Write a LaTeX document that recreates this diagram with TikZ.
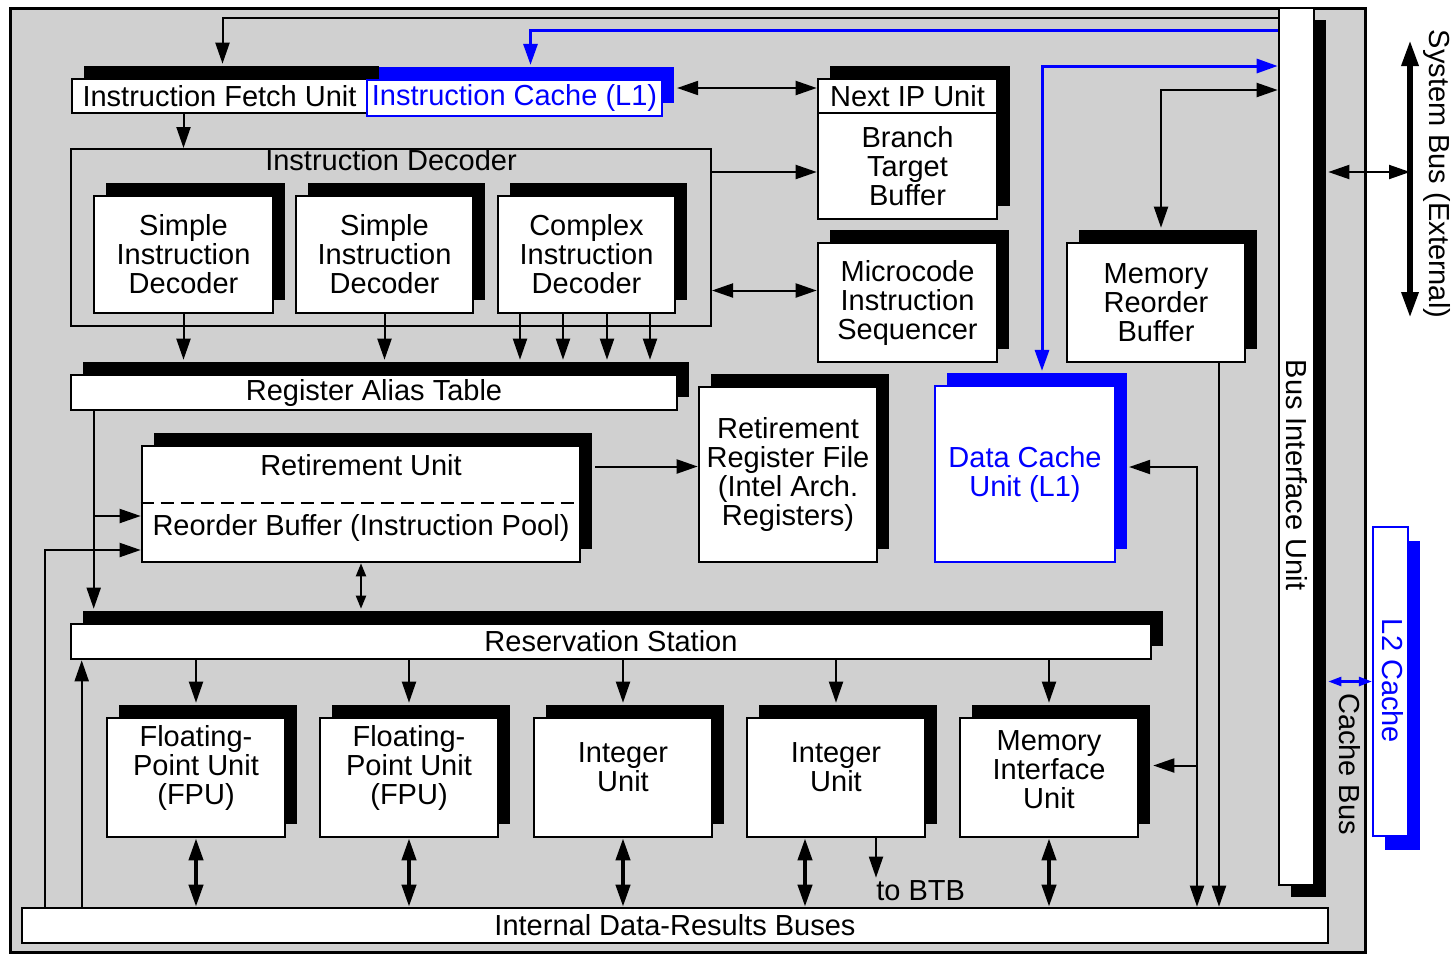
\documentclass[tikz,border=0pt]{standalone}
\usepackage{fontspec}
\setmainfont{Liberation Sans}
\usetikzlibrary{arrows.meta,shadows}
\definecolor{bggray}{RGB}{208,208,208}
\definecolor{pblue}{RGB}{0,0,255}
\begin{document}
\begin{tikzpicture}[x=0.5pt,y=-0.5pt,
  font=\fontsize{14.5}{14.5}\selectfont,
  unitbox/.style={draw=black, fill=white, line width=1.3pt, align=center, inner sep=0pt},
  bluebox/.style={draw=pblue, text=pblue, line width=1.1pt},
  blkshadow/.style={general shadow={fill=black, shadow xshift=6pt, shadow yshift=6.5pt}},
  blueshadow/.style={general shadow={fill=pblue, shadow xshift=6pt, shadow yshift=6.5pt}},
  exunit/.style={unitbox, blkshadow, minimum width=89pt, minimum height=59.5pt},
  arr/.style={-{Triangle[length=10.5pt,width=7pt]}, line width=1pt},
  darr/.style={{Triangle[length=10.5pt,width=7pt]}-{Triangle[length=10.5pt,width=7pt]}, line width=1pt},
  barr/.style={arr, draw=pblue, line width=1.5pt},
  dbarr/.style={darr, draw=pblue, line width=1.5pt},
  tdarr/.style={{Triangle[length=11pt,width=7pt]}-{Triangle[length=11pt,width=7pt]}, line width=2pt},
  sdarr/.style={{Triangle[length=6.5pt,width=5pt]}-{Triangle[length=6.5pt,width=5pt]}, line width=1pt},
]
\useasboundingbox (0,0) rectangle (1456,954);

% processor frame
\draw[line width=1.5pt, fill=bggray] (10,8) rectangle (1365,952);

% fetch stage
\node[unitbox, blkshadow, minimum width=147.5pt, minimum height=17pt] (ifu) at (219.5,96) {Instruction Fetch Unit};
\node[unitbox, bluebox, blueshadow, minimum width=147.5pt, minimum height=18pt] (ic) at (514.5,98) {Instruction Cache (L1)};

% next IP unit with branch target buffer
\fill[black] (830,66) rectangle (1010,206);
\node[unitbox, minimum width=89.5pt, minimum height=17pt] (nip) at (907.5,96) {Next IP Unit};
\node[unitbox, minimum width=89.5pt, minimum height=53pt] (btb) at (907.5,166) {Branch\\Target\\Buffer};

% decoder group
\node[draw, line width=1pt, minimum width=320pt, minimum height=88.5pt, inner sep=0pt] (dec) at (391,237.5) {};
\node (declabel) at (391,160) {Instruction Decoder};
\node[unitbox, blkshadow, minimum width=89.5pt, minimum height=58.5pt] (sid1) at (183.5,254.5) {Simple\\Instruction\\Decoder};
\node[unitbox, blkshadow, minimum width=88.5pt, minimum height=58.5pt] (sid2) at (384.5,254.5) {Simple\\Instruction\\Decoder};
\node[unitbox, blkshadow, minimum width=88.5pt, minimum height=58.5pt] (cid) at (586.5,254.5) {Complex\\Instruction\\Decoder};

\node[unitbox, blkshadow, minimum width=89.5pt, minimum height=59.5pt] (mis) at (907.5,302.5) {Microcode\\Instruction\\Sequencer};
\node[unitbox, blkshadow, minimum width=89pt, minimum height=59.5pt] (mrb) at (1156,302.5) {Memory\\Reorder\\Buffer};

\node[unitbox, blkshadow, minimum width=303pt, minimum height=17.5pt] (rat) at (374,392.5) {Register Alias Table};
\node[unitbox, blkshadow, minimum width=89pt, minimum height=87.5pt] (rrf) at (788,474.5) {Retirement\\Register File\\(Intel Arch.\\Registers)};
\node[unitbox, bluebox, blueshadow, minimum width=90pt, minimum height=88pt] (dcu) at (1025,474) {Data Cache\\Unit (L1)};

% retirement unit / reorder buffer
\node[unitbox, blkshadow, minimum width=219pt, minimum height=58pt] (rob) at (361,504) {};
\draw[line width=0.8pt, dash pattern=on 6.5pt off 3.5pt] (rob.west |- 0,503) -- (rob.east |- 0,503);
\node (rutext) at (361,465) {Retirement Unit};
\node (robtext) at (361,528) {Reorder Buffer (Instruction Pool)};

\node[unitbox, blkshadow, minimum width=540pt, minimum height=17.5pt] (rs) at (611,641.5) {Reservation Station};

% execution units
\node[exunit, label={[align=center,yshift=5pt]center:{Floating-\\Point Unit\\(FPU)}}] (fpu1) at (196,777.5) {};
\node[exunit, label={[align=center,yshift=5pt]center:{Floating-\\Point Unit\\(FPU)}}] (fpu2) at (409,777.5) {};
\node[exunit, label={[align=center,yshift=5pt]center:{Integer\\Unit}}] (int1) at (623,777.5) {};
\node[exunit, label={[align=center,yshift=5pt]center:{Integer\\Unit}}] (int2) at (836,777.5) {};
\node[exunit, label={[align=center,yshift=4pt]center:{Memory\\Interface\\Unit}}] (miu) at (1049,777.5) {};

\node[unitbox, minimum width=653pt, minimum height=17.5pt] (bus) at (675,925.5) {Internal Data-Results Buses};

% bus interface unit and L2 cache
\node[unitbox, general shadow={fill=black, shadow xshift=6pt, shadow yshift=-6pt}, minimum width=17.5pt, minimum height=438.5pt] (biu) at (1296.5,446.5) {};
\node[rotate=-90] (biutext) at (1297,475) {Bus Interface Unit};
\node[unitbox, bluebox, general shadow={fill=pblue, shadow xshift=6pt, shadow yshift=-7pt}, minimum width=17.5pt, minimum height=154.5pt] (l2) at (1390.5,681.5) {};
\node[rotate=-90, text=pblue] (l2text) at (1393,681) {L2 Cache};
\node[rotate=-90] (cachebus) at (1350,764) {Cache Bus};
\node[rotate=-90] (sysbus) at (1437,174) {System Bus (External)};
\node[anchor=base west, inner sep=1pt] (tobtb) at (874,900) {to BTB};

% helper points
\coordinate (yTop) at (0,18);
\coordinate (yBlue) at (0,30);
\coordinate (y66) at (0,66);
\coordinate (y88) at (0,88);
\coordinate (y90) at (0,90);
\coordinate (y172) at (0,172);
\coordinate (col1) at (1197,0);
\coordinate (col2) at (1219,0);
\coordinate (sysTop) at (1410,40);
\coordinate (sysBot) at (1410,318);
\coordinate (icR) at ([xshift=7pt]ic.east);
\coordinate (btbIn) at ([yshift=-3pt]btb.west);
\coordinate (misIn) at ([yshift=6pt]mis.west);
\coordinate (ratTop) at ([yshift=7pt]rat.north);
\coordinate (mrbTop) at ([xshift=2.5pt,yshift=7pt]mrb.north);
\coordinate (dcuTop) at ([xshift=8.5pt,yshift=7pt]dcu.north);
\coordinate (ruR) at ([xshift=7pt]rob.east);
\coordinate (rrfIn) at ([yshift=4pt]rrf.west);
\coordinate (dcuR) at ([xshift=6.5pt,yshift=3.5pt]dcu.east);
\coordinate (miuR) at ([xshift=7pt,yshift=6pt]miu.east);
\coordinate (ratL) at ([xshift=12pt]rat.south west);
\coordinate (rsTop) at ([yshift=7pt]rs.north);
\coordinate (robIn1) at ([yshift=-6pt]rob.west);
\coordinate (robIn2) at ([yshift=-23pt]rob.west);
\coordinate (busL1) at ([xshift=12pt]bus.north west);
\coordinate (busL2) at ([xshift=30.5pt]bus.north west);
\coordinate (i2a) at ([xshift=-15.5pt]int2.south);
\coordinate (i2b) at ([xshift=20pt]int2.south);
\coordinate (biuR) at ([xshift=6.5pt]biu.east);

% front end connections
\draw[arr] (biu.west |- yTop) -| ([xshift=1.5pt,yshift=7pt]ifu.north);
\draw[barr] (biu.west |- yBlue) -| ([xshift=8pt,yshift=7pt]ic.north);
\draw[darr] (icR |- y88) -- (nip.west |- y88);
\draw[arr] (ifu.south -| sid1) -- (dec.north -| sid1);
\draw[arr] (dec.east |- btbIn) -- (btbIn);
\draw[darr] (dec.east |- misIn) -- (misIn);
\draw[arr] (sid1.south) -- (sid1.south |- ratTop);
\draw[arr] (sid2.south) -- (sid2.south |- ratTop);
\foreach \dx [count=\i] in {-33.25,-11.75,10.25,31.75} {
  \coordinate (cout\i) at ([xshift=\dx pt]cid.south);
  \draw[arr] (cout\i) -- (cout\i |- ratTop);
}

% memory side
\draw[darr] (biu.west |- y90) -| (mrbTop);
\draw[dbarr] (biu.west |- y66) -| (dcuTop);
\draw[darr] (dcuR) -| (bus.north -| col1);
\draw[arr] (col1 |- miuR) -- (miuR);
\draw[arr] (mrb.south -| col2) -- (bus.north -| col2);

% out-of-order core
\draw[arr] (ruR |- rrfIn) -- (rrfIn);
\draw[arr] (ratL) -- (ratL |- rsTop);
\draw[arr] (ratL |- robIn1) -- (robIn1);
\draw[arr] (busL1) |- (robIn2);
\draw[arr] (busL2) -- (busL2 |- rs.south);
\draw[sdarr] (rob.south) -- (rob.south |- rsTop);

\foreach \u in {fpu1,fpu2,int1,int2,miu} {
  \draw[arr] (rs.south -| \u.north) -- ([yshift=7pt]\u.north);
}
\foreach \u in {fpu1,fpu2,int1,miu} {
  \draw[tdarr] (\u.south) -- (bus.north -| \u.south);
}
\draw[tdarr] (i2a) -- (bus.north -| i2a);
\draw[arr] (i2b) -- (i2b |- tobtb.north);

% external buses
\draw[{Triangle[length=13pt,width=8pt]}-{Triangle[length=13pt,width=8pt]}, line width=3pt] (sysTop) -- (sysBot);
\draw[darr] (biuR |- y172) -- (sysTop |- y172);
\draw[{Triangle[length=6.5pt,width=4.5pt]}-{Triangle[length=6.5pt,width=4.5pt]}, draw=pblue, line width=1.2pt] (biuR |- l2.west) -- (l2.west);
\end{tikzpicture}
\end{document}
